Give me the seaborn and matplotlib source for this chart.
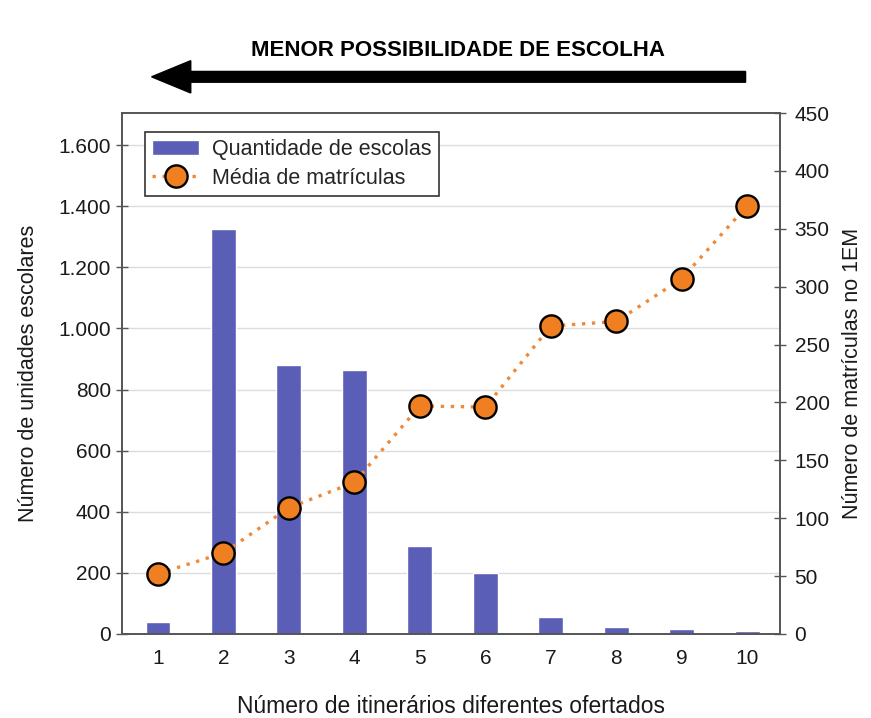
import numpy as np
import pandas as pd
import seaborn as sns
import matplotlib.pyplot as plt
from matplotlib.patches import FancyArrow
from matplotlib.ticker import FuncFormatter, MultipleLocator

# dados
itinerarios = [1, 2, 3, 4, 5, 6, 7, 8, 9, 10]
qtd_escolas = [38, 1325, 880, 865, 288, 200, 56, 23, 16, 10]
media_matriculas = [52, 70, 109, 131, 197, 196, 266, 270, 307, 370]

df = pd.DataFrame({'itin': itinerarios, 'escolas': qtd_escolas, 'media': media_matriculas})

sns.set_theme(style='white')
plt.rcParams['font.family'] = ['Liberation Sans', 'DejaVu Sans']

fig = plt.figure(figsize=(8.71, 7.18), dpi=100)
ax = fig.add_axes([0.140, 0.117, 0.7555, 0.7255])

sns.barplot(data=df, x='itin', y='escolas', native_scale=True, width=0.38,
            color='#5b5eb6', saturation=1, ax=ax, label='Quantidade de escolas', zorder=2)

ax2 = ax.twinx()
sns.lineplot(data=df, x='itin', y='media', ax=ax2, color='#ef8a3a', lw=2.4,
             linestyle=(0, (1, 2)), marker='o', markersize=16, markerfacecolor='#f07f22',
             markeredgecolor='black', markeredgewidth=1.7, label='Média de matrículas')

ax.set_xlim(0.45, 10.5)
ax.set_ylim(0, 1705)
ax2.set_ylim(0, 450)
ax.yaxis.set_major_locator(MultipleLocator(200))
ax2.yaxis.set_major_locator(MultipleLocator(50))
ax.set_xticks(itinerarios)
ax.yaxis.set_major_formatter(FuncFormatter(lambda v, p: f'{int(v):,}'.replace(',', '.')))

ax.grid(axis='y', color='#dcdcdc', lw=1, zorder=0)
ax.set_axisbelow(True)
ax2.grid(False)

for a in (ax, ax2):
    for s in a.spines.values():
        s.set_color('#555555')
        s.set_linewidth(1.2)
    a.tick_params(direction='inout', length=9, width=1, color='#555555',
                  labelsize=15, labelcolor='#1a1a1a')
ax.tick_params(axis='x', pad=6)
ax.tick_params(axis='y', left=True, right=False)
ax2.tick_params(axis='y', right=True, pad=6)

ax.set_xlabel('Número de itinerários diferentes ofertados', fontsize=16.5, labelpad=20, color='#1a1a1a')
ax.set_ylabel('Número de unidades escolares', fontsize=15.5, labelpad=14, color='#1a1a1a')
ax2.set_ylabel('Número de matrículas no 1EM', fontsize=15.5, labelpad=9, color='#1a1a1a')

h1, l1 = ax.get_legend_handles_labels()
h2, l2 = ax2.get_legend_handles_labels()
if ax2.get_legend():
    ax2.get_legend().remove()
if ax.get_legend():
    ax.get_legend().remove()
leg = ax2.legend(h1 + h2, l1 + l2, loc='upper left', bbox_to_anchor=(0.018, 0.985),
                 fontsize=15.5, frameon=True, fancybox=False, edgecolor='#333333',
                 framealpha=1, handlelength=2.2, borderpad=0.35, labelspacing=0.35,
                 handletextpad=0.6)
leg.get_frame().set_linewidth(1.2)

# seta e título superior
fig.text(0.526, 0.930, 'MENOR POSSIBILIDADE DE ESCOLHA', ha='center', va='center',
         fontsize=16, fontweight='bold', color='black')
fig.patches.append(FancyArrow(
    0.856, 0.893, -0.682, 0, width=0.015, head_width=0.045, head_length=0.045,
    length_includes_head=True, transform=fig.transFigure, color='black', figure=fig))

fig.savefig('out.png', dpi=100)
